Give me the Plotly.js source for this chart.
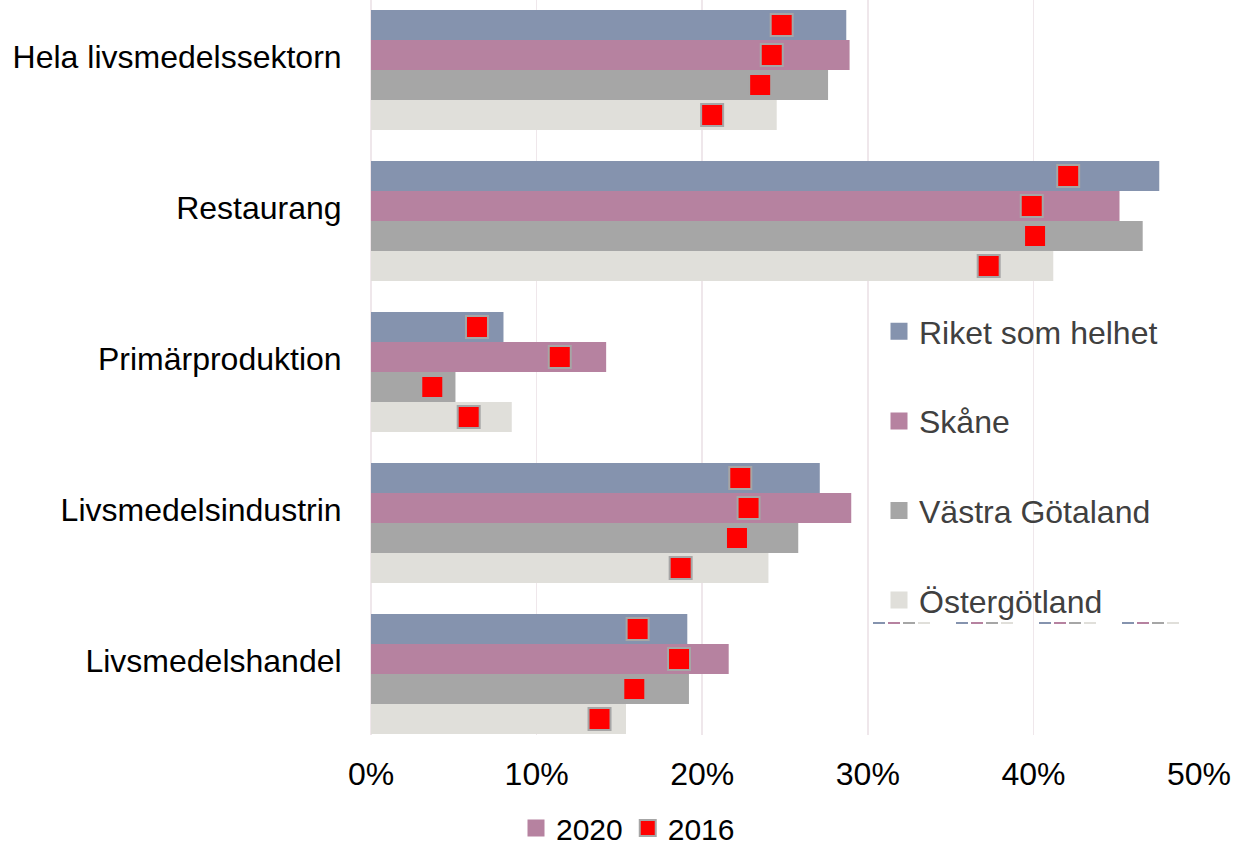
<!DOCTYPE html>
<html>
<head>
<meta charset="utf-8">
<script src="https://cdn.plot.ly/plotly-3.0.1.min.js"></script>
<style>
  html, body { margin: 0; padding: 0; background: #ffffff; }
  #chart { width: 1235px; height: 845px; }
</style>
</head>
<body>
<div id="chart"></div>
<script>
// Categories (top to bottom)
const categories = ['Hela livsmedelssektorn', 'Restaurang', 'Primärproduktion', 'Livsmedelsindustrin', 'Livsmedelshandel'];
const seriesNames = ['Riket som helhet', 'Skåne', 'Västra Götaland', 'Östergötland'];

// 2020 values (%)
const riket2020 = [28.7, 47.6, 8.0, 27.1, 19.1];
const skane2020 = [28.9, 45.2, 14.2, 29.0, 21.6];
const vg2020    = [27.6, 46.6, 5.1, 25.8, 19.2];
const og2020    = [24.5, 41.2, 8.5, 24.0, 15.4];

// 2016 values (%)
const riket2016 = [24.8, 42.1, 6.4, 22.3, 16.1];
const skane2016 = [24.2, 39.9, 11.4, 22.8, 18.6];
const vg2016    = [23.5, 40.1, 3.7, 22.1, 15.9];
const og2016    = [20.6, 37.3, 5.9, 18.7, 13.8];

const xTickVals = [0, 10, 20, 30, 40, 50];

const colors = ['#8593AE', '#B682A0', '#A6A6A6', '#E0DFDA'];
const vals2020 = [riket2020, skane2020, vg2020, og2020];
const vals2016 = [riket2016, skane2016, vg2016, og2016];

const FONT = 'Liberation Sans, Arial, sans-serif';

const traces = [];
// 2020 bars
for (let i = 0; i < 4; i++) {
  traces.push({
    type: 'bar',
    orientation: 'h',
    name: seriesNames[i],
    y: categories,
    x: vals2020[i],
    marker: { color: colors[i], line: { width: 0 } },
    showlegend: false
  });
}
// 2016 markers
for (let i = 0; i < 4; i++) {
  traces.push({
    type: 'scatter',
    mode: 'markers',
    orientation: 'h',
    name: '2016',
    y: categories,
    x: vals2016[i],
    marker: { symbol: 'square', size: 22, color: '#FF0000', line: { color: '#A6A6A6', width: 2 } },
    legend: 'legend2',
    showlegend: i === 0,
    cliponaxis: false
  });
}
// Legend entries (on hidden axes so they don't take bar slots)
for (let i = 0; i < 4; i++) {
  traces.push({
    type: 'bar',
    orientation: 'h',
    name: seriesNames[i],
    x: [null], y: [null],
    xaxis: 'x2', yaxis: 'y2',
    marker: { color: colors[i], line: { color: colors[i], width: 5 } },
    legend: 'legend',
    legendgroup: 'g' + i,
    showlegend: true
  });
}
traces.push({
  type: 'bar',
  orientation: 'h',
  name: '2020',
  x: [null], y: [null],
  xaxis: 'x2', yaxis: 'y2',
  marker: { color: colors[1], line: { color: colors[1], width: 5 } },
  legend: 'legend2',
  showlegend: true
});

// Plot geometry
const W = 1235, H = 845;
const mL = 371, mR = 36, mT = 0, mB = 110;
const plotW = W - mL - mR, plotH = H - mT - mB;

// decorative dash artefacts under the legend
const shapes = [];
const dashStarts = [873, 956, 1039, 1122];
dashStarts.forEach(function (sx) {
  for (let k = 0; k < 4; k++) {
    const x0 = sx + k * 15;
    shapes.push({
      type: 'rect', xref: 'paper', yref: 'paper',
      x0: (x0 - mL) / plotW, x1: (x0 + 12 - mL) / plotW,
      y0: 1 - 624 / plotH, y1: 1 - 622 / plotH,
      fillcolor: colors[k], line: { width: 0 }, layer: 'above'
    });
  }
});

const layout = {
  width: W, height: H,
  margin: { l: mL, r: mR, t: mT, b: mB, pad: 0, autoexpand: false },
  paper_bgcolor: '#ffffff',
  plot_bgcolor: '#ffffff',
  font: { family: FONT, size: 32, color: '#000000' },
  barmode: 'group',
  bargap: 0.205,
  bargroupgap: 0,
  scattermode: 'group',
  scattergap: 0.205,
  showlegend: true,
  xaxis: {
    range: [0, 50],
    tickvals: xTickVals,
    ticktext: xTickVals.map(v => v + '%'),
    showgrid: true,
    gridcolor: '#EFE7EB',
    gridwidth: 1.5,
    zeroline: true,
    zerolinecolor: '#EFE7EB',
    zerolinewidth: 1.5,
    showline: false,
    ticks: 'outside',
    ticklen: 11,
    tickcolor: 'rgba(0,0,0,0)',
    tickfont: { family: FONT, size: 32, color: '#000000' },
    fixedrange: true
  },
  yaxis: {
    type: 'category',
    categoryorder: 'array',
    categoryarray: categories,
    range: [4.404, -0.464],
    showgrid: false,
    zeroline: false,
    showline: false,
    ticks: 'outside',
    ticklen: 22,
    tickcolor: 'rgba(0,0,0,0)',
    ticklabelshift: 13,
    tickfont: { family: FONT, size: 32, color: '#000000' },
    fixedrange: true
  },
  xaxis2: { overlaying: 'x', visible: false, range: [0, 1] },
  yaxis2: { overlaying: 'y', visible: false, range: [0, 1] },
  legend: {
    x: (879 - mL) / plotW, xanchor: 'left',
    y: 1 - 304 / plotH, yanchor: 'top',
    orientation: 'v',
    traceorder: 'grouped',
    tracegroupgap: 45,
    bgcolor: 'rgba(0,0,0,0)',
    font: { family: FONT, size: 32, color: '#404040' }
  },
  legend2: {
    xref: 'container', yref: 'container',
    x: 516 / W, xanchor: 'left',
    y: 1 - 802 / H, yanchor: 'top',
    orientation: 'h',
    traceorder: 'reversed',
    bgcolor: 'rgba(0,0,0,0)',
    font: { family: FONT, size: 30, color: '#000000' }
  },
  shapes: shapes
};

Plotly.newPlot('chart', traces, layout, { displayModeBar: false, staticPlot: true });
</script>
</body>
</html>
